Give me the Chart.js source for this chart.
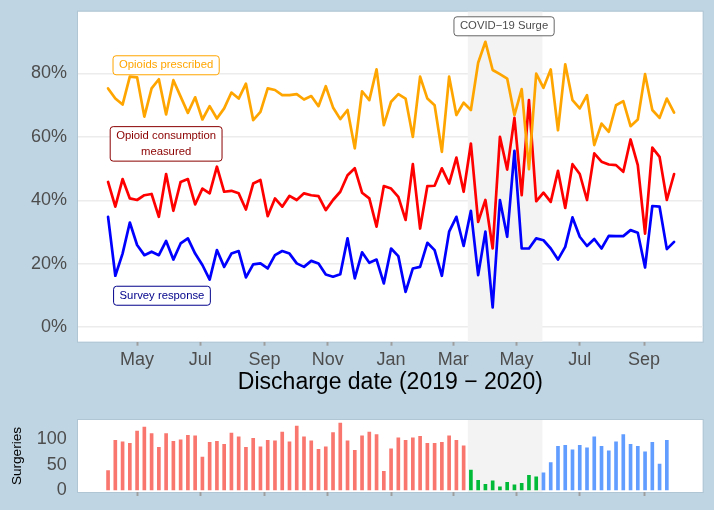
<!DOCTYPE html>
<html>
<head>
<meta charset="utf-8">
<script src="https://cdn.jsdelivr.net/npm/chart.js@4.4.1/dist/chart.umd.min.js"></script>
<style>
  html, body { margin: 0; padding: 0; background: #BFD5E3; }
  #wrap { position: relative; width: 714px; height: 510px; }
  canvas { position: absolute; left: 0; }
  #top { top: 0; }
  #bottom { top: 400px; }
</style>
</head>
<body>
<div id="wrap">
  <canvas id="top" width="714" height="400"></canvas>
  <canvas id="bottom" width="714" height="110"></canvas>
</div>
<script>
// weekly data, first week starting 2019-04-03
const firstWeek = '2019-04-03';

const opioidsPrescribed = [
  75.3, 72.1, 70.2, 79.0, 78.8, 66.4, 75.3, 78.2, 67.1, 77.9,
  72.7, 67.6, 72.5, 65.5, 69.7, 65.8, 69.0, 74.0, 72.1, 76.8,
  65.3, 67.9, 75.3, 74.8, 73.2, 73.2, 73.5, 71.8, 72.9, 69.7,
  76.0, 69.3, 65.6, 68.5, 56.4, 74.4, 71.6, 81.3, 63.7, 71.1,
  73.5, 72.1, 60.0, 79.0, 72.1, 70.0, 55.3, 79.0, 66.9, 70.8,
  68.5, 83.4, 90.0, 81.1, 79.8, 78.4, 66.9, 75.1, 49.8, 80.0,
  75.5, 81.3, 62.1, 82.9, 71.6, 69.0, 73.2, 57.4, 64.2, 61.6,
  70.0, 71.3, 63.4, 65.5, 79.8, 68.5, 66.0, 72.1, 67.7
];
const consumptionMeasured = [
  45.8, 38.0, 46.7, 40.6, 40.1, 41.6, 42.0, 34.8, 48.3, 36.7,
  45.8, 46.7, 38.7, 43.7, 42.2, 50.6, 42.7, 43.0, 42.2, 37.1,
  45.3, 46.4, 35.0, 40.6, 38.0, 41.4, 40.1, 42.2, 41.6, 41.3,
  36.9, 40.1, 42.7, 47.9, 50.1, 42.4, 40.6, 31.7, 44.5, 43.7,
  41.1, 33.8, 51.4, 31.1, 44.5, 44.6, 50.1, 45.3, 53.5, 42.7,
  57.9, 33.2, 40.1, 24.8, 60.0, 49.7, 66.0, 41.6, 71.6, 39.7,
  42.4, 39.5, 49.3, 37.6, 51.4, 48.3, 40.1, 54.8, 52.2, 51.3,
  51.1, 49.0, 59.2, 51.1, 29.5, 56.6, 53.7, 40.1, 48.3
];
const surveyResponse = [
  34.8, 16.2, 23.2, 33.0, 25.9, 22.7, 23.8, 22.7, 27.2, 21.3,
  26.4, 28.0, 23.2, 19.6, 15.0, 24.3, 19.0, 23.2, 24.0, 15.7,
  19.8, 20.1, 18.5, 22.7, 24.0, 23.2, 20.1, 19.0, 20.9, 20.1,
  16.6, 15.9, 16.7, 28.0, 15.4, 23.6, 20.3, 21.3, 13.8, 24.8,
  22.4, 11.1, 18.5, 19.0, 26.6, 24.3, 16.2, 30.1, 34.8, 25.6,
  36.7, 16.4, 30.1, 6.2, 40.1, 28.5, 55.6, 24.8, 24.8, 28.0,
  27.4, 24.8, 21.3, 25.3, 34.6, 28.5, 25.6, 27.8, 24.8, 28.8,
  28.7, 28.7, 30.6, 29.8, 18.8, 38.2, 38.0, 24.6, 26.9
];
const surgeries = [
  38, 98, 95, 92, 116, 124, 111, 84, 111, 96,
  99, 108, 107, 65, 94, 96, 90, 112, 105, 84,
  102, 85, 98, 97, 114, 95, 126, 105, 97, 80,
  85, 113, 132, 97, 78, 107, 114, 109, 37, 81,
  103, 98, 103, 106, 92, 92, 94, 107, 98, 87,
  39, 19, 11, 18, 6, 15, 10, 13, 29, 26,
  34, 54, 86, 88, 79, 88, 83, 105, 86, 77,
  95, 109, 90, 86, 75, 94, 51, 98
];

const tickDates = ['2019-05-01', '2019-07-01', '2019-09-01', '2019-11-01', '2020-01-01',
                   '2020-03-01', '2020-05-01', '2020-07-01', '2020-09-01'];
const tickLabels = ['May', 'Jul', 'Sep', 'Nov', 'Jan', 'Mar', 'May', 'Jul', 'Sep'];
const pctTicks = [0, 20, 40, 60, 80];
const surgeryTicks = [0, 50, 100];
const surgeDates = ['2020-03-15', '2020-05-26'];

Chart.defaults.font.family = "'Liberation Sans', Arial, sans-serif";

const day = s => Date.parse(s) / 86400000;
const weekX = i => day(firstWeek) + 7 * i;
const pts = arr => arr.map((v, i) => ({ x: weekX(i), y: v }));
const xMin = day('2019-05-01') - 57;
const xMax = day('2019-05-01') + 545.6;
const surgeFrom = day(surgeDates[0]), surgeTo = day(surgeDates[1]);

const barColor = i => {
  const x = weekX(i);
  if (x < surgeFrom) return '#F8766D';
  if (x <= surgeTo) return '#00BA38';
  return '#619CFF';
};

// white panel + covid shading
const panel = {
  id: 'panel',
  beforeDraw(chart) {
    const { ctx, chartArea: a } = chart;
    ctx.save();
    ctx.fillStyle = '#fff';
    ctx.fillRect(a.left, a.top, a.width, a.height);
    ctx.strokeStyle = 'rgba(160,180,196,0.45)';
    ctx.lineWidth = 1;
    ctx.strokeRect(a.left - 0.5, a.top - 0.5, a.width + 1, a.height + 1);
    ctx.restore();
  },
  beforeDatasetsDraw(chart) {
    const { ctx, chartArea: a, scales: { x } } = chart;
    const x1 = x.getPixelForValue(surgeFrom), x2 = x.getPixelForValue(surgeTo);
    ctx.save();
    ctx.fillStyle = '#f3f3f3';
    ctx.fillRect(x1, a.top, x2 - x1, a.height);
    ctx.restore();
  }
};

function roundRect(ctx, x, y, w, h, r) {
  ctx.beginPath();
  ctx.moveTo(x + r, y);
  ctx.lineTo(x + w - r, y);
  ctx.arcTo(x + w, y, x + w, y + r, r);
  ctx.lineTo(x + w, y + h - r);
  ctx.arcTo(x + w, y + h, x + w - r, y + h, r);
  ctx.lineTo(x + r, y + h);
  ctx.arcTo(x, y + h, x, y + h - r, r);
  ctx.lineTo(x, y + r);
  ctx.arcTo(x, y, x + r, y, r);
  ctx.closePath();
}

const notes = [
  { lines: ['Opioids prescribed'], x: day('2019-05-29'), y: 82.6, color: '#FFA500', border: '#FFA500' },
  { lines: ['Opioid consumption', 'measured'], x: day('2019-05-29'), y: 57.8, color: '#8B0000', border: '#8B0000' },
  { lines: ['Survey response'], x: day('2019-05-25'), y: 9.9, color: '#00008B', border: '#00008B' },
  { lines: ['COVID\u221219 Surge'], x: day('2020-04-19'), y: 94.9, color: '#4d4d4d', border: '#666' }
];

const labels = {
  id: 'labels',
  afterDatasetsDraw(chart) {
    const { ctx, scales: { x, y } } = chart;
    ctx.save();
    ctx.font = "11.3px 'Liberation Sans', Arial, sans-serif";
    ctx.textAlign = 'center';
    ctx.textBaseline = 'middle';
    const lh = 15.5;
    notes.forEach(n => {
      const cx = x.getPixelForValue(n.x), cy = y.getPixelForValue(n.y);
      const w = Math.max(...n.lines.map(l => ctx.measureText(l).width)) + 12;
      const h = n.lines.length * lh + 3.5;
      roundRect(ctx, cx - w / 2, cy - h / 2, w, h, 3);
      ctx.fillStyle = '#fff';
      ctx.fill();
      ctx.strokeStyle = n.border;
      ctx.lineWidth = 1;
      ctx.stroke();
      ctx.fillStyle = n.color;
      n.lines.forEach((l, k) => {
        ctx.fillText(l, cx, cy - (n.lines.length - 1) * lh / 2 + k * lh);
      });
    });
    ctx.restore();
  }
};

const noPad = s => { s.paddingTop = 0; s.paddingBottom = 0; s.paddingLeft = 0; s.paddingRight = 0; };
const xTicks = s => { s.ticks = tickDates.map(d => ({ value: day(d) })); };
const tickGrid = { offset: false, drawOnChartArea: false, drawTicks: true, tickLength: 4, tickWidth: 2, tickColor: '#9e9e9e' };

new Chart(document.getElementById('top'), {
  type: 'line',
  data: {
    datasets: [
      { label: 'Opioids prescribed', data: pts(opioidsPrescribed), borderColor: '#FFA500' },
      { label: 'Opioid consumption measured', data: pts(consumptionMeasured), borderColor: '#FF0000' },
      { label: 'Survey response', data: pts(surveyResponse), borderColor: '#0000FF' }
    ]
  },
  options: {
    responsive: false,
    animation: false,
    devicePixelRatio: 1,
    layout: { padding: { left: 0, right: 11.3, top: 11.7, bottom: 0 } },
    elements: {
      line: { borderWidth: 2.7, tension: 0, borderJoinStyle: 'round', borderCapStyle: 'round', fill: false },
      point: { radius: 0 }
    },
    plugins: { legend: { display: false }, tooltip: { enabled: false } },
    scales: {
      x: {
        type: 'linear', min: xMin, max: xMax, offset: false,
        afterBuildTicks: xTicks,
        afterFit: s => { noPad(s); s.height = 58.3; },
        ticks: { autoSkip: false, maxRotation: 0, padding: 4, color: '#4d4d4d', font: { size: 18 },
                 callback: (v, i) => tickLabels[i] },
        grid: tickGrid,
        border: { display: false },
        title: { display: true, text: 'Discharge date (2019 \u2212 2020)', color: '#000',
                 font: { size: 23 }, padding: { top: 0, bottom: 4 } }
      },
      y: {
        min: -4.6, max: 99.5,
        afterBuildTicks: s => { s.ticks = pctTicks.map(v => ({ value: v })); },
        afterFit: s => { noPad(s); s.width = 78; },
        ticks: { padding: 11, color: '#4d4d4d', font: { size: 18 }, callback: v => v + '%' },
        grid: { color: '#ececec', lineWidth: 1.5, drawTicks: false },
        border: { display: false }
      }
    }
  },
  plugins: [panel, labels]
});

new Chart(document.getElementById('bottom'), {
  type: 'bar',
  data: {
    datasets: [{
      label: 'Surgeries',
      data: pts(surgeries),
      backgroundColor: surgeries.map((v, i) => barColor(i)),
      barThickness: 3
    }]
  },
  options: {
    responsive: false,
    animation: false,
    devicePixelRatio: 1,
    layout: { padding: { left: 0, right: 11.3, top: 20, bottom: 0 } },
    plugins: { legend: { display: false }, tooltip: { enabled: false } },
    scales: {
      x: {
        type: 'linear', min: xMin, max: xMax, offset: false,
        afterBuildTicks: xTicks,
        afterFit: s => { noPad(s); s.height = 18; },
        ticks: { display: false },
        grid: tickGrid,
        border: { display: false }
      },
      y: {
        min: -4, max: 138,
        afterBuildTicks: s => { s.ticks = surgeryTicks.map(v => ({ value: v })); },
        afterFit: s => { noPad(s); s.width = 78; },
        ticks: { padding: 3.3, color: '#4d4d4d', font: { size: 18 } },
        grid: { display: false },
        border: { display: false },
        title: { display: true, text: 'Surgeries', color: '#000', font: { size: 13.6 },
                 padding: { top: 9.5, bottom: 0 } }
      }
    }
  },
  plugins: [panel]
});
</script>
</body>
</html>
